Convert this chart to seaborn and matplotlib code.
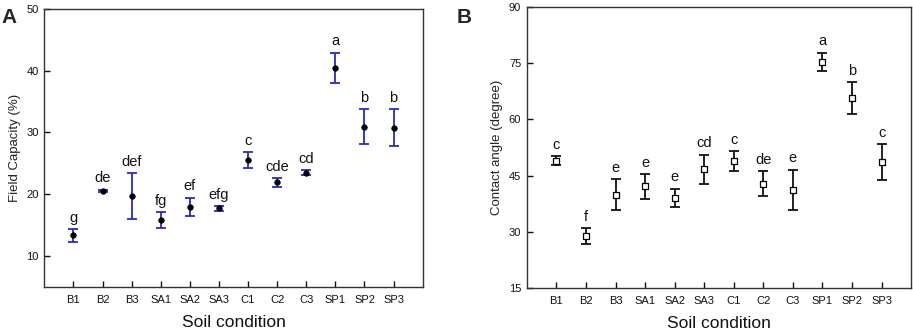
import numpy as np
import matplotlib
matplotlib.use("Agg")
import matplotlib.pyplot as plt
import seaborn as sns
import pandas as pd

categories = ["B1", "B2", "B3", "SA1", "SA2", "SA3", "C1", "C2", "C3", "SP1", "SP2", "SP3"]

fc_mean = [13.3, 20.55, 19.65, 15.8, 17.95, 17.7, 25.55, 21.9, 23.5, 40.45, 30.95, 30.75]
fc_err = [1.0, 0.2, 3.75, 1.35, 1.5, 0.4, 1.3, 0.7, 0.35, 2.5, 2.8, 3.0]
fc_letters = ["g", "de", "def", "fg", "ef", "efg", "c", "cde", "cd", "a", "b", "b"]

ca_mean = [49.0, 28.9, 39.95, 42.15, 39.05, 46.7, 48.9, 42.8, 41.2, 75.35, 65.7, 48.65]
ca_err = [1.2, 2.1, 4.2, 3.3, 2.5, 3.9, 2.7, 3.3, 5.4, 2.5, 4.2, 4.75]
ca_letters = ["c", "f", "e", "e", "e", "cd", "c", "de", "e", "a", "b", "c"]

sns.set_theme(style="white")
plt.rcParams["font.family"] = ["Liberation Sans", "DejaVu Sans"]

fig = plt.figure(figsize=(9.13, 3.34), dpi=100)
axA = fig.add_axes([0.0485, 0.1416, 0.4145, 0.8314])
axB = fig.add_axes([0.577, 0.1377, 0.421, 0.8413])

dfA = pd.DataFrame({"cat": categories, "mean": fc_mean, "err": fc_err, "pos": np.arange(len(categories))})
dfB = pd.DataFrame({"cat": categories, "mean": ca_mean, "err": ca_err, "pos": np.arange(len(categories))})

# Panel A
axA.errorbar(dfA["pos"], dfA["mean"], yerr=dfA["err"], fmt="none", ecolor="#2a2ac4",
             elinewidth=1.3, capsize=3.5, capthick=1.3, zorder=2)
sns.scatterplot(data=dfA, x="pos", y="mean", ax=axA, color="black", s=16, marker="o",
                edgecolor="black", linewidth=0.5, zorder=3, legend=False)
for i, (m, e, t) in enumerate(zip(fc_mean, fc_err, fc_letters)):
    axA.annotate(t, xy=(i, m + e), xytext=(0, 3), textcoords="offset points",
                 ha="center", va="bottom", fontsize=10.5, color="#111111")

# Panel B
axB.errorbar(dfB["pos"], dfB["mean"], yerr=dfB["err"], fmt="none", ecolor="#111111",
             elinewidth=1.3, capsize=3.5, capthick=1.3, zorder=2)
sns.scatterplot(data=dfB, x="pos", y="mean", ax=axB, color="white", s=22, marker="s",
                edgecolor="black", linewidth=0.9, zorder=3, legend=False)
for i, (m, e, t) in enumerate(zip(ca_mean, ca_err, ca_letters)):
    axB.annotate(t, xy=(i, m + e), xytext=(0, 3), textcoords="offset points",
                 ha="center", va="bottom", fontsize=10.5, color="#111111")

for ax in (axA, axB):
    ax.set_xlim(-1, 12)
    ax.set_xticks(np.arange(len(categories)))
    ax.set_xticklabels(categories)
    ax.tick_params(axis="both", direction="in", length=4, width=1, labelsize=8,
                   colors="#111111", left=True, bottom=True, pad=4)
    ax.tick_params(axis="x", pad=6)
    for sp in ax.spines.values():
        sp.set_color("#333333")
        sp.set_linewidth(1.0)
    ax.set_xlabel("Soil condition", fontsize=12.5, labelpad=7, color="#111111")

axA.set_ylim(5, 50)
axA.set_yticks([10, 20, 30, 40, 50])
axA.set_ylabel("Field Capacity (%)", fontsize=9.5, color="#222222", labelpad=4)

axB.set_ylim(15, 90)
axB.set_yticks([15, 30, 45, 60, 75, 90])
axB.set_ylabel("Contact angle (degree)", fontsize=9.5, color="#222222", labelpad=4)

fig.text(0.002, 0.975, "A", fontsize=15, fontweight="bold", va="top", ha="left")
fig.text(0.5, 0.975, "B", fontsize=15, fontweight="bold", va="top", ha="left")

fig.savefig("out.png", dpi=100)
